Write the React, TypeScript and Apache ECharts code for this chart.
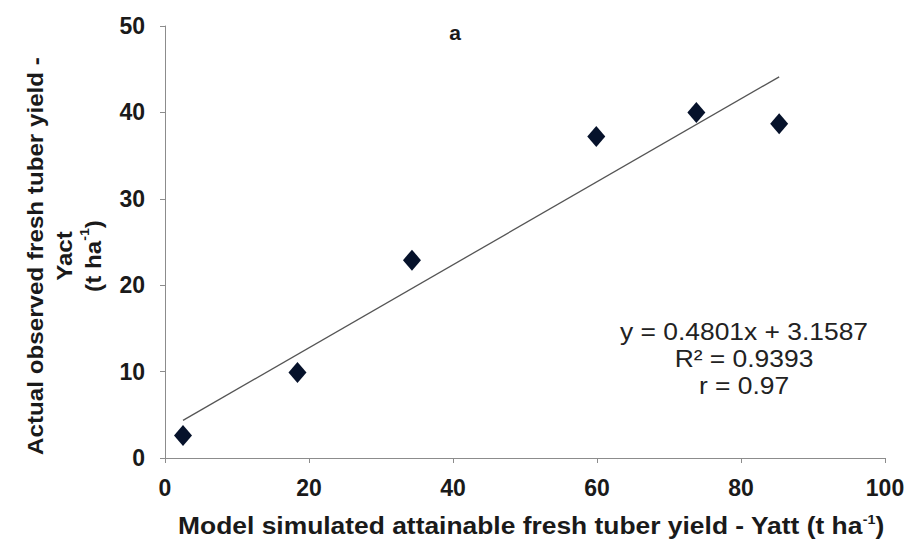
import React, { useEffect, useRef } from "react";
import * as echarts from "echarts";

const xValues = [2.5, 18.4, 34.3, 59.9, 73.8, 85.3];
const yValues = [2.6, 9.9, 22.9, 37.2, 40.0, 38.7];
const trendSlope = 0.4801;
const trendIntercept = 3.1587;
const rSquared = "0.9393";
const rValue = "0.97";
const xAxisRange = [0, 100, 20];
const yAxisRange = [0, 50, 10];

const FONT = "'Liberation Sans', Arial, sans-serif";

export default function App() {
  const ref = useRef<HTMLDivElement>(null);
  useEffect(() => {
    if (!ref.current) return;
    const chart = echarts.init(ref.current, undefined, { renderer: "svg" });
    const points = xValues.map((x, i) => [x, yValues[i]]);
    const minX = Math.min(...xValues);
    const maxX = Math.max(...xValues);
    const trend = [
      [minX, trendSlope * minX + trendIntercept],
      [maxX, trendSlope * maxX + trendIntercept],
    ];
    const sup = { fontSize: 13, fontWeight: "bold", verticalAlign: "top", fontFamily: FONT, fill: "#1a1a1a" };
    chart.setOption({
      animation: false,
      backgroundColor: "#ffffff",
      grid: { left: 165, right: 26, top: 26, bottom: 88, containLabel: false },
      xAxis: {
        type: "value",
        min: xAxisRange[0],
        max: xAxisRange[1],
        interval: xAxisRange[2],
        splitLine: { show: false },
        axisLine: { show: true, onZero: false, lineStyle: { color: "#8c8c8c", width: 1 } },
        axisTick: { show: true, length: 5, lineStyle: { color: "#8c8c8c" } },
        axisLabel: { margin: 18, fontSize: 23, fontWeight: "bold", color: "#1a1a1a", fontFamily: FONT },
      },
      yAxis: {
        type: "value",
        min: yAxisRange[0],
        max: yAxisRange[1],
        interval: yAxisRange[2],
        splitLine: { show: false },
        axisLine: { show: true, onZero: false, lineStyle: { color: "#8c8c8c", width: 1 } },
        axisTick: { show: true, length: 5, lineStyle: { color: "#8c8c8c" } },
        axisLabel: { margin: 20, fontSize: 23, fontWeight: "bold", color: "#1a1a1a", fontFamily: FONT },
      },
      series: [
        {
          type: "line",
          data: trend,
          symbol: "none",
          lineStyle: { color: "#555555", width: 1.3 },
          z: 1,
        },
        {
          type: "scatter",
          data: points,
          symbol: "diamond",
          symbolSize: [18, 21],
          itemStyle: { color: "#06122b", opacity: 1 },
          z: 2,
        },
      ],
      graphic: [
        {
          type: "text",
          x: 455,
          y: 32,
          style: {
            text: "a",
            font: `bold 21px ${FONT}`,
            fill: "#1a1a1a",
            align: "center",
            verticalAlign: "middle",
          },
        },
        {
          type: "text",
          x: 64,
          y: 256,
          rotation: Math.PI / 2,
          scaleX: 1.1,
          style: {
            text: "Actual observed fresh tuber yield -\nYact\n(t ha{sup|-1})",
            font: `bold 22px ${FONT}`,
            fill: "#1a1a1a",
            align: "center",
            verticalAlign: "middle",
            lineHeight: 29,
            rich: { sup },
          },
        },
        {
          type: "text",
          x: 531,
          y: 525,
          scaleX: 1.1,
          style: {
            text: "Model simulated attainable fresh tuber yield - Yatt (t ha{sup|-1})",
            font: `bold 24px ${FONT}`,
            fill: "#1a1a1a",
            align: "center",
            verticalAlign: "middle",
            rich: { sup },
          },
        },
        {
          type: "text",
          x: 744,
          y: 358,
          scaleX: 1.1,
          style: {
            text: `y = ${trendSlope}x + ${trendIntercept}\nR² = ${rSquared}\nr = ${rValue}`,
            font: `24px ${FONT}`,
            fill: "#222222",
            align: "center",
            verticalAlign: "middle",
            lineHeight: 27,
          },
        },
      ],
    });
    return () => chart.dispose();
  }, []);
  return <div ref={ref} style={{ width: 911, height: 546, position: "absolute", left: 0, top: 0 }} />;
}
